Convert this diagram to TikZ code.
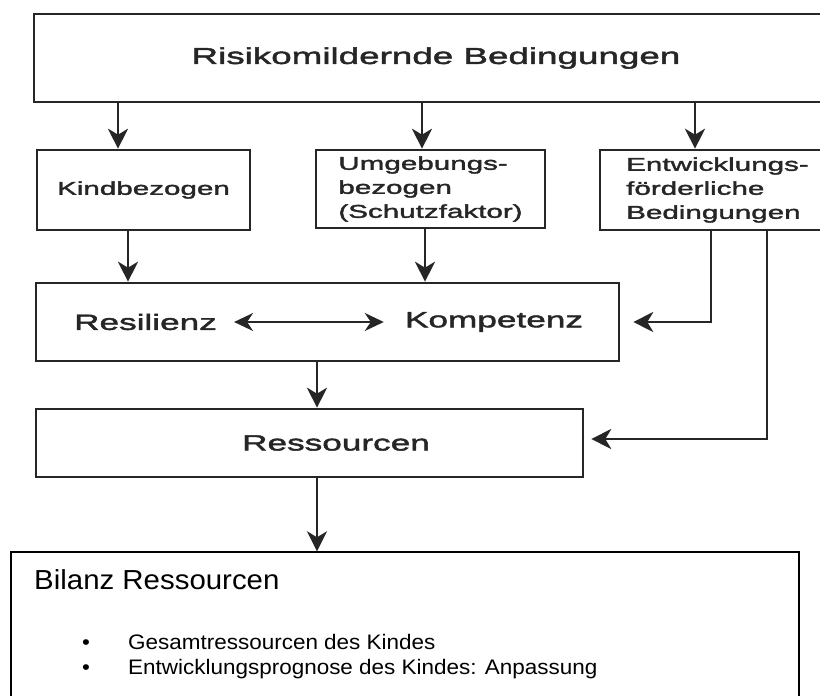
\documentclass[tikz,border=0pt]{standalone}
\usepackage{fontspec}
\setmainfont{Liberation Sans}
\newfontfamily\scanfont[FakeStretch=1.6,FakeBold=2]{Liberation Sans}
\newfontfamily\bilfont[FakeStretch=1.07]{Liberation Sans}
\usetikzlibrary{arrows.meta}
\definecolor{ink}{HTML}{262626}
\begin{document}
\begin{tikzpicture}[x=1pt,y=-1pt,
  scanbox/.style={draw=ink, line width=2.6pt, inner sep=0pt, text=ink},
  midtext/.style={font=\scanfont\fontsize{18.5}{24}\selectfont, align=left},
  bigtext/.style={font=\scanfont\fontsize{22}{26}\selectfont, text=ink, inner sep=0pt},
  arr/.style={draw=ink, line width=2.4pt, -{Stealth[length=20pt,width=20pt,inset=6pt]}},
  dblarr/.style={draw=ink, line width=1.8pt, {Stealth[length=19pt,width=18pt,inset=6pt]}-{Stealth[length=19pt,width=18pt,inset=6pt]}},
  plainbox/.style={draw=black, line width=1.4pt, inner sep=0pt},
  bultext/.style={inner sep=0pt, font=\bilfont\fontsize{21}{25}\selectfont},
]
\useasboundingbox (0,0) rectangle (820,696);
\clip (0,0) rectangle (820,696);
\fill[white] (0,0) rectangle (820,696);

% boxes
\node[scanbox, minimum width=804pt, minimum height=88pt,
      font=\scanfont\fontsize{23}{28}\selectfont] (top) at (436,58) {Risikomildernde Bedingungen};
\node[scanbox, midtext, minimum width=213pt, minimum height=80pt] (kind) at (143.5,190) {Kindbezogen};
\node[scanbox, midtext, minimum width=229pt, minimum height=78pt] (umg) at (430.5,189) {Umgebungs-\\bezogen\\(Schutzfaktor)};
\node[scanbox, midtext, minimum width=235pt, minimum height=80pt] (entw) at (717.5,190) {Entwicklungs-\\förderliche\\Bedingungen};
\node[scanbox, minimum width=583pt, minimum height=78pt] (rk) at (327.5,322) {};
\node[scanbox, minimum width=547pt, minimum height=68pt] (ress) at (309.5,443) {};
\node[plainbox, minimum width=788pt, minimum height=190pt] (bil) at (405,647) {};

% texts
\node[bigtext] (resil) at (145.5,322) {Resilienz};
\node[bigtext] (komp) at (494,322) {Kompetenz};
\node[bigtext] (resst) at (336,443) {Ressourcen};
\node[anchor=base west, inner sep=0pt, font=\bilfont\fontsize{27.5}{32}\selectfont] (bilt) at (34,589) {Bilanz Ressourcen};
\node[anchor=base, bultext] (b1) at (86,649) {•};
\node[anchor=base west, bultext] (t1) at (128,649) {Gesamtressourcen des Kindes};
\node[anchor=base, bultext] (b2) at (86,674) {•};
\node[anchor=base west, bultext] (t2) at (128,674) {Entwicklungsprognose des Kindes: Anpassung};

% x positions of connectors
\coordinate (xa) at (118,0);
\coordinate (xb) at (422,0);
\coordinate (xc) at (695,0);
\coordinate (xd) at (128,0);
\coordinate (xe) at (425,0);
\coordinate (xf) at (711,0);
\coordinate (xg) at (767,0);
\coordinate (xh) at (317,0);

% connectors
\draw[arr] (top.south -| xa) -- (kind.north -| xa);
\draw[arr] (top.south -| xb) -- (umg.north -| xb);
\draw[arr] (top.south -| xc) -- (entw.north -| xc);
\draw[arr] (kind.south -| xd) -- (rk.north -| xd);
\draw[arr] (umg.south -| xe) -- (rk.north -| xe);
\draw[arr] (entw.south -| xf) |- ([xshift=13pt]rk.east);
\draw[arr] (entw.south -| xg) |- ([shift={(7,-4)}]ress.east);
\draw[arr] (rk.south -| xh) -- (ress.north -| xh);
\draw[arr] (ress.south -| xh) -- (bil.north -| xh);
\draw[dblarr] ([xshift=17pt]resil.east) -- ([xshift=-21pt]komp.west);
\end{tikzpicture}
\end{document}
